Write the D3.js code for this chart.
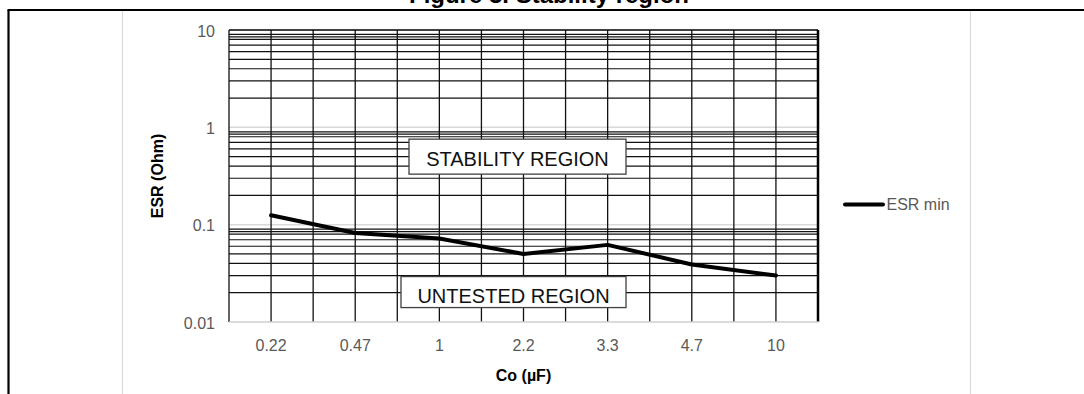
<!DOCTYPE html>
<html>
<head>
<meta charset="utf-8">
<script src="https://cdn.jsdelivr.net/npm/d3@7/dist/d3.min.js"></script>
<style>
  html, body { margin: 0; padding: 0; background: #fff; }
  svg { display: block; font-family: "Liberation Sans", Arial, sans-serif; }
</style>
</head>
<body>
<svg id="chart" width="1084" height="394"></svg>
<script>
// Output capacitor values (category axis)
const capacitors = ["0.22", "0.47", "1", "2.2", "3.3", "4.7", "10"];
// Minimum ESR for stable operation (Ohm)
const esrMin = [0.125, 0.082, 0.072, 0.05, 0.062, 0.039, 0.03];
// Y axis decades
const yTicks = [0.01, 0.1, 1, 10];
const yTickLabels = ["0.01", "0.1", "1", "10"];
// Minor steps within each decade of the graph-paper grid
const minorSteps = [2, 3, 4, 5, 6, 7, 8, 8.5, 9];
const seriesName = "ESR min";

const svg = d3.select("#chart");
const W = 1084, H = 394;
const plot = { left: 229, right: 818, top: 30, bottom: 322 };

const x = d3.scaleBand().domain(capacitors).range([plot.left, plot.right]).padding(0);
const y = d3.scaleLog().domain([0.01, 10]).range([plot.bottom, plot.top]);
const bw = x.bandwidth();
const cx = c => x(c) + bw / 2;

// Outer frame and chart-area edges
svg.append("line").attr("x1", 122.5).attr("x2", 122.5).attr("y1", 11).attr("y2", H)
  .attr("stroke", "#d9d9d9").attr("stroke-width", 1.2);
svg.append("line").attr("x1", 970.5).attr("x2", 970.5).attr("y1", 11).attr("y2", H)
  .attr("stroke", "#d9d9d9").attr("stroke-width", 1.2);

// Figure caption (sits above the frame)
svg.append("text").attr("x", 549).attr("y", 3).attr("text-anchor", "middle")
  .attr("font-size", 24).attr("font-weight", "bold").attr("fill", "#000")
  .text("Figure 3. Stability region");

svg.append("line").attr("x1", 7.5).attr("x2", W).attr("y1", 10).attr("y2", 10)
  .attr("stroke", "#000").attr("stroke-width", 2.2);
svg.append("line").attr("x1", 8.5).attr("x2", 8.5).attr("y1", 10).attr("y2", H)
  .attr("stroke", "#000").attr("stroke-width", 2.2);

const g = svg.append("g");

// Decade gridlines (light)
g.selectAll("line.major").data([1, 0.1]).join("line").attr("class", "major")
  .attr("x1", plot.left).attr("x2", plot.right)
  .attr("y1", d => y(d)).attr("y2", d => y(d))
  .attr("stroke", "#d9d9d9").attr("stroke-width", 1.5);

// Graph-paper minor lines
const minorVals = [];
[0.01, 0.1, 1].forEach(d => minorSteps.forEach(k => minorVals.push(d * k)));
g.selectAll("line.minor").data(minorVals).join("line").attr("class", "minor")
  .attr("x1", plot.left).attr("x2", plot.right)
  .attr("y1", d => y(d)).attr("y2", d => y(d))
  .attr("stroke", "#111").attr("stroke-width", 1.2);

// Vertical lines at every band edge and centre
const vx = [];
capacitors.forEach(c => { vx.push(x(c)); vx.push(cx(c)); });
g.selectAll("line.vert").data(vx).join("line").attr("class", "vert")
  .attr("x1", d => d).attr("x2", d => d)
  .attr("y1", plot.top).attr("y2", plot.bottom)
  .attr("stroke", "#111").attr("stroke-width", 1.3);

// Plot borders
g.append("line").attr("x1", plot.left).attr("x2", plot.right).attr("y1", y(10)).attr("y2", y(10))
  .attr("stroke", "#000").attr("stroke-width", 1.5);
g.append("line").attr("x1", plot.right).attr("x2", plot.right).attr("y1", plot.top).attr("y2", plot.bottom)
  .attr("stroke", "#000").attr("stroke-width", 2.5);
g.append("line").attr("x1", plot.left).attr("x2", plot.right + 1).attr("y1", y(0.01)).attr("y2", y(0.01))
  .attr("stroke", "#cfcfcf").attr("stroke-width", 1.5);

// Region annotations
const regions = [
  { label: "STABILITY REGION", cat: "2.2", val: 0.5, dx: -6, w: 217, h: 35, base: 9.5 },
  { label: "UNTESTED REGION", cat: "2.2", val: 0.0203, dx: -10, w: 225, h: 31, base: 10.5 }
];
regions.forEach(r => {
  const mx = cx(r.cat) + r.dx, my = y(r.val);
  g.append("rect").attr("x", mx - r.w / 2).attr("y", my - r.h / 2)
    .attr("width", r.w).attr("height", r.h)
    .attr("fill", "#fff").attr("stroke", "#404040").attr("stroke-width", 1.3);
  g.append("text").attr("x", mx).attr("y", my + r.base).attr("text-anchor", "middle")
    .attr("font-size", 20).attr("fill", "#111").text(r.label);
});

// Data line
const line = d3.line().x((d, i) => cx(capacitors[i])).y(d => y(d));
g.append("path").datum(esrMin).attr("d", line)
  .attr("fill", "none").attr("stroke", "#000").attr("stroke-width", 4)
  .attr("stroke-linejoin", "round").attr("stroke-linecap", "round");

// Axes (labels only)
const yAxis = d3.axisLeft(y).tickValues(yTicks).tickSize(0).tickPadding(0)
  .tickFormat((d, i) => yTickLabels[i]);
const ya = svg.append("g").attr("transform", "translate(215,1)").call(yAxis);
ya.select(".domain").remove();
ya.selectAll("text").attr("font-size", 16).attr("fill", "#595959")
  .attr("font-family", "Liberation Sans, Arial, sans-serif");

const xAxis = d3.axisBottom(x).tickSize(0).tickPadding(0);
const xa = svg.append("g").attr("transform", "translate(0,340)").call(xAxis);
xa.select(".domain").remove();
xa.selectAll("text").attr("font-size", 16).attr("fill", "#595959")
  .attr("font-family", "Liberation Sans, Arial, sans-serif");

// Axis titles
svg.append("text").attr("transform", "translate(163,176) rotate(-90)")
  .attr("text-anchor", "middle").attr("font-size", 16).attr("font-weight", "bold")
  .attr("fill", "#000").text("ESR (Ohm)");
svg.append("text").attr("x", (plot.left + plot.right) / 2).attr("y", 381)
  .attr("text-anchor", "middle").attr("font-size", 16).attr("font-weight", "bold")
  .attr("fill", "#000").text("Co (µF)");

// Legend
const lg = svg.append("g").attr("transform", "translate(845,204.5)");
lg.append("line").attr("x1", 0).attr("x2", 38).attr("y1", 0).attr("y2", 0)
  .attr("stroke", "#000").attr("stroke-width", 4).attr("stroke-linecap", "round");
lg.append("text").attr("x", 41.5).attr("y", 0).attr("dy", "0.35em")
  .attr("font-size", 16).attr("fill", "#595959").text(seriesName);
</script>
</body>
</html>
